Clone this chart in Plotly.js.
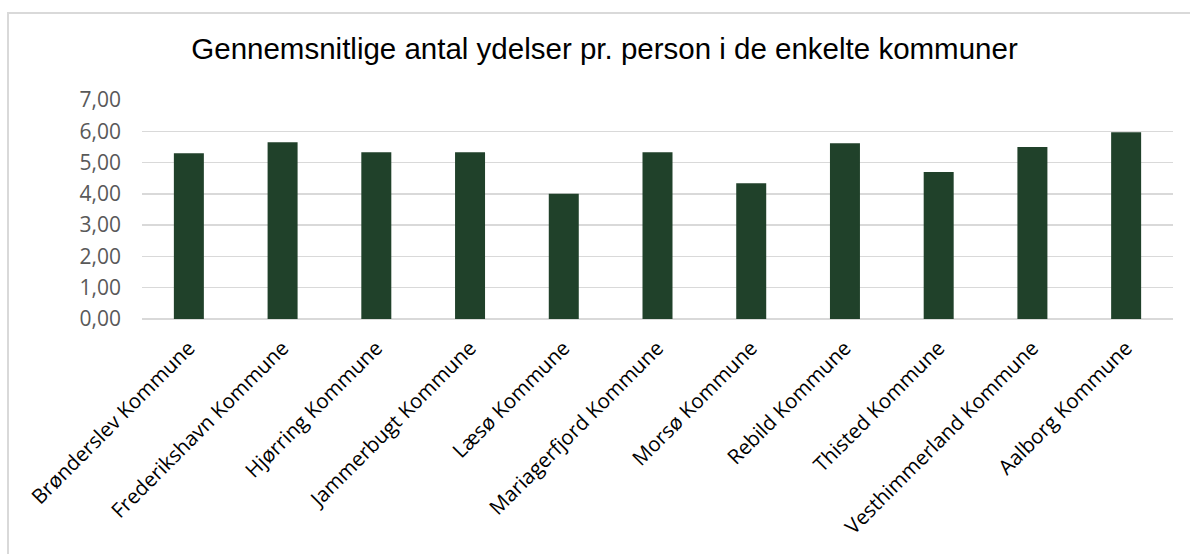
<!DOCTYPE html>
<html>
<head>
<meta charset="utf-8">
<script src="https://cdn.plot.ly/plotly-3.0.1.min.js"></script>
<style>
  html, body { margin: 0; padding: 0; background: #fff; overflow: hidden; }
  #chart { width: 1190px; height: 554px; }
  #frame { position: absolute; left: 7px; top: 12px; width: 1250px; height: 700px;
           border: 2px solid #d9d9d9; pointer-events: none; }
</style>
</head>
<body>
<div id="chart"></div>
<div id="frame"></div>
<script>
const titleText = "Gennemsnitlige antal ydelser pr. person i de enkelte kommuner";
const kommuner = [
  "Brønderslev Kommune", "Frederikshavn Kommune", "Hjørring Kommune",
  "Jammerbugt Kommune", "Læsø Kommune", "Mariagerfjord Kommune",
  "Morsø Kommune", "Rebild Kommune", "Thisted Kommune",
  "Vesthimmerland Kommune", "Aalborg Kommune"
];
const ydelser = [5.30, 5.65, 5.33, 5.33, 4.00, 5.33, 4.34, 5.62, 4.70, 5.50, 5.97];
const yTicks = [0, 1, 2, 3, 4, 5, 6, 7];

const trace = {
  type: "bar",
  x: kommuner,
  y: ydelser,
  marker: { color: "#20412A" },
  hoverinfo: "x+y"
};

const layout = {
  width: 1190,
  height: 554,
  separators: ",.",
  paper_bgcolor: "rgba(0,0,0,0)",
  plot_bgcolor: "rgba(0,0,0,0)",
  margin: { l: 142, r: 17, t: 100, b: 235 },
  bargap: 0.68,
  showlegend: false,
  title: {
    text: titleText,
    font: { family: "Liberation Sans, Arial, sans-serif", size: 29.5, color: "#000" },
    x: 0.508, xanchor: "center",
    y: 0.912, yanchor: "middle"
  },
  xaxis: {
    type: "category",
    tickangle: -45,
    tickfont: { family: "Open Sans, sans-serif", size: 20.5, color: "#000" },
    showgrid: false,
    showline: false,
    zeroline: false,
    ticks: "",
    ticklabelstandoff: 12
  },
  yaxis: {
    range: [0, 7],
    tickvals: yTicks,
    tickformat: ".2f",
    tickfont: { family: "Open Sans, sans-serif", size: 21, color: "#595959" },
    showgrid: true,
    gridcolor: "#d9d9d9",
    gridwidth: 1.5,
    zeroline: true,
    zerolinecolor: "#d9d9d9",
    zerolinewidth: 1.5,
    showline: false,
    ticks: "",
    ticklabelstandoff: 20
  }
};

Plotly.newPlot("chart", [trace], layout, { displayModeBar: false, staticPlot: true });
</script>
</body>
</html>
